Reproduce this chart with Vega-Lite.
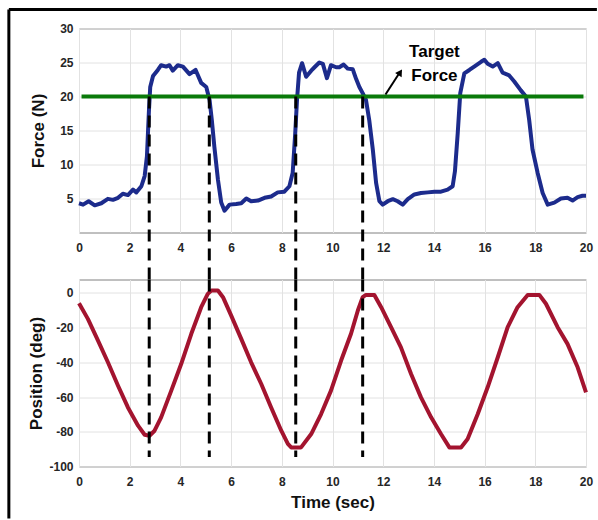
{
  "$schema": "https://vega.github.io/schema/vega-lite/v6.json",
  "padding": {"left": 6, "top": 7.5, "right": 0, "bottom": 0},
  "background": "white",
  "bounds": "flush",
  "spacing": 47,
  "config": {
    "view": {"stroke": "#808080", "strokeWidth": 1},
    "font": "Liberation Sans",
    "axis": {
      "labelFont": "Liberation Sans", "labelFontWeight": "bold", "labelFontSize": 12, "labelColor": "#262626",
      "titleFont": "Liberation Sans", "titleFontWeight": "bold", "titleFontSize": 17, "titleColor": "#111111",
      "gridColor": "#e2e2e2", "gridWidth": 1, "domain": false, "ticks": false, "labelFlush": false
    }
  },
  "datasets": {
    "force": [
      {"t": 0, "v": 4.3}, {"t": 0.16, "v": 4.1}, {"t": 0.38, "v": 4.6}, {"t": 0.62, "v": 4.0}, {"t": 0.88, "v": 4.3},
      {"t": 1.14, "v": 4.95}, {"t": 1.34, "v": 4.8}, {"t": 1.54, "v": 5.1}, {"t": 1.73, "v": 5.7}, {"t": 1.93, "v": 5.5},
      {"t": 2.13, "v": 6.3}, {"t": 2.26, "v": 5.9}, {"t": 2.46, "v": 6.8}, {"t": 2.59, "v": 8.3}, {"t": 2.68, "v": 11.2},
      {"t": 2.76, "v": 18}, {"t": 2.81, "v": 21.4}, {"t": 2.92, "v": 23}, {"t": 3.11, "v": 23.9}, {"t": 3.24, "v": 24.6},
      {"t": 3.44, "v": 24.4}, {"t": 3.57, "v": 24.6}, {"t": 3.7, "v": 23.8}, {"t": 3.9, "v": 24.6}, {"t": 4.1, "v": 24.4},
      {"t": 4.36, "v": 23.3}, {"t": 4.6, "v": 23.9}, {"t": 4.82, "v": 22}, {"t": 5.02, "v": 21.4}, {"t": 5.15, "v": 19.5},
      {"t": 5.24, "v": 16.5}, {"t": 5.34, "v": 12.6}, {"t": 5.48, "v": 7.8}, {"t": 5.61, "v": 4.4}, {"t": 5.74, "v": 3.2},
      {"t": 5.94, "v": 4.1}, {"t": 6.2, "v": 4.2}, {"t": 6.4, "v": 4.3}, {"t": 6.6, "v": 5.0}, {"t": 6.79, "v": 4.6},
      {"t": 7.06, "v": 4.7}, {"t": 7.32, "v": 5.1}, {"t": 7.58, "v": 5.3}, {"t": 7.84, "v": 5.9}, {"t": 8.1, "v": 6.0},
      {"t": 8.3, "v": 6.8}, {"t": 8.43, "v": 8.8}, {"t": 8.53, "v": 14.6}, {"t": 8.6, "v": 19.5}, {"t": 8.68, "v": 23.5},
      {"t": 8.8, "v": 24.9}, {"t": 8.96, "v": 22.9}, {"t": 9.16, "v": 23.8}, {"t": 9.29, "v": 24.3}, {"t": 9.48, "v": 25.0},
      {"t": 9.62, "v": 24.8}, {"t": 9.78, "v": 22.7}, {"t": 9.94, "v": 24.6}, {"t": 10.14, "v": 24.3}, {"t": 10.27, "v": 24.3},
      {"t": 10.44, "v": 24.7}, {"t": 10.6, "v": 24.1}, {"t": 10.8, "v": 24.0}, {"t": 10.93, "v": 22.6}, {"t": 11.06, "v": 21.4},
      {"t": 11.19, "v": 20.5}, {"t": 11.32, "v": 19.5}, {"t": 11.45, "v": 16.5}, {"t": 11.59, "v": 12.2}, {"t": 11.72, "v": 7.3},
      {"t": 11.85, "v": 4.6}, {"t": 11.98, "v": 4.1}, {"t": 12.18, "v": 4.6}, {"t": 12.38, "v": 4.9}, {"t": 12.57, "v": 4.6},
      {"t": 12.77, "v": 4.1}, {"t": 12.97, "v": 4.9}, {"t": 13.23, "v": 5.6}, {"t": 13.49, "v": 5.8}, {"t": 13.76, "v": 5.9},
      {"t": 14.02, "v": 6.0}, {"t": 14.28, "v": 6.0}, {"t": 14.54, "v": 6.3}, {"t": 14.74, "v": 6.8}, {"t": 14.83, "v": 9.0},
      {"t": 14.94, "v": 14.6}, {"t": 15.04, "v": 20.5}, {"t": 15.2, "v": 23.4}, {"t": 15.4, "v": 23.9}, {"t": 15.59, "v": 24.4},
      {"t": 15.86, "v": 25.1}, {"t": 15.99, "v": 25.4}, {"t": 16.12, "v": 24.8}, {"t": 16.32, "v": 24.4}, {"t": 16.52, "v": 24.9},
      {"t": 16.71, "v": 23.5}, {"t": 16.97, "v": 23.1}, {"t": 17.17, "v": 22.2}, {"t": 17.43, "v": 20.9}, {"t": 17.63, "v": 20.0},
      {"t": 17.76, "v": 16.5}, {"t": 17.89, "v": 12.2}, {"t": 18.09, "v": 8.8}, {"t": 18.29, "v": 5.8}, {"t": 18.49, "v": 4.1},
      {"t": 18.75, "v": 4.4}, {"t": 19.01, "v": 5.0}, {"t": 19.27, "v": 5.1}, {"t": 19.47, "v": 4.7}, {"t": 19.67, "v": 5.2},
      {"t": 19.86, "v": 5.4}, {"t": 20, "v": 5.4}
    ],
    "position": [
      {"t": 0, "v": -6}, {"t": 0.35, "v": -15}, {"t": 0.75, "v": -27.5}, {"t": 1.14, "v": -40}, {"t": 1.54, "v": -53.5},
      {"t": 1.93, "v": -66}, {"t": 2.33, "v": -76.5}, {"t": 2.59, "v": -81.7}, {"t": 2.78, "v": -82.3}, {"t": 2.98, "v": -79.4},
      {"t": 3.24, "v": -71.7}, {"t": 3.64, "v": -56.3}, {"t": 4.03, "v": -41}, {"t": 4.43, "v": -23.6}, {"t": 4.82, "v": -8.3},
      {"t": 5.08, "v": -0.6}, {"t": 5.22, "v": 1.3}, {"t": 5.48, "v": 1.3}, {"t": 5.68, "v": -2.5}, {"t": 6.0, "v": -13},
      {"t": 6.4, "v": -26.5}, {"t": 6.79, "v": -40}, {"t": 7.19, "v": -52.5}, {"t": 7.58, "v": -66}, {"t": 7.98, "v": -79.4},
      {"t": 8.24, "v": -87}, {"t": 8.37, "v": -89}, {"t": 8.76, "v": -89}, {"t": 9.16, "v": -81.3}, {"t": 9.55, "v": -69.8},
      {"t": 9.94, "v": -56.3}, {"t": 10.34, "v": -39}, {"t": 10.73, "v": -23.6}, {"t": 11.0, "v": -10.2}, {"t": 11.19, "v": -2.5},
      {"t": 11.32, "v": -1.2}, {"t": 11.65, "v": -1.2}, {"t": 11.92, "v": -8.3}, {"t": 12.31, "v": -19.8}, {"t": 12.7, "v": -31.4},
      {"t": 13.1, "v": -46.7}, {"t": 13.49, "v": -60.2}, {"t": 13.89, "v": -71.7}, {"t": 14.28, "v": -81.3}, {"t": 14.61, "v": -89},
      {"t": 15.07, "v": -89}, {"t": 15.33, "v": -84.2}, {"t": 15.73, "v": -69.8}, {"t": 16.12, "v": -54.4}, {"t": 16.52, "v": -37.1},
      {"t": 16.91, "v": -19.8}, {"t": 17.3, "v": -8.3}, {"t": 17.7, "v": -1.2}, {"t": 18.16, "v": -1.2}, {"t": 18.42, "v": -6.3},
      {"t": 18.88, "v": -19.8}, {"t": 19.27, "v": -29.4}, {"t": 19.67, "v": -42.9}, {"t": 20, "v": -57.3}
    ],
    "target": [{"t": 0.1, "v": 20}, {"t": 19.9, "v": 20}],
    "dashTop": [
      {"t": 2.77, "v": 20, "v2": -6.9}, {"t": 5.14, "v": 20, "v2": -6.9},
      {"t": 8.55, "v": 20, "v2": -6.9}, {"t": 11.19, "v": 20, "v2": -6.9}
    ],
    "dashBottom": [
      {"t": 2.77, "v": 7.67, "v2": -94.6}, {"t": 5.14, "v": 7.67, "v2": -94.6},
      {"t": 8.55, "v": 7.67, "v2": -94.6}, {"t": 11.19, "v": 7.67, "v2": -94.6}
    ],
    "arrowShaft": [{"t": 12.09, "t2": 12.62, "v": 20.29, "v2": 23.34}],
    "arrowHead": [{"t": 12.67, "v": 23.57}],
    "labels": [{"t": 14.02, "v": 25.78, "label": "Target"}, {"t": 14.02, "v": 22.35, "label": "Force"}],
    "borderLeft": [{"t": -2.767, "v": 32.79, "v2": -42.06}],
    "borderTop": [{"t": -2.767, "t2": 20.43, "v": 32.79}]
  },
  "vconcat": [
    {
      "width": 507,
      "height": 204,
      "encoding": {
        "x": {"field": "t", "type": "quantitative", "scale": {"domain": [0, 20], "nice": false, "zero": false},
              "axis": {"values": [0, 2, 4, 6, 8, 10, 12, 14, 16, 18, 20], "title": null, "labelPadding": 10, "labelAngle": 0, "labelFlush": false}},
        "y": {"field": "v", "type": "quantitative", "scale": {"domain": [0, 30], "nice": false, "zero": false},
              "axis": {"values": [5, 10, 15, 20, 25, 30], "title": "Force (N)", "labelPadding": 6, "titlePadding": 12}}
      },
      "layer": [
        {"data": {"name": "borderLeft"}, "mark": {"type": "rule", "clip": false, "color": "#000000", "strokeWidth": 3},
         "encoding": {"y2": {"field": "v2"}}},
        {"data": {"name": "borderTop"}, "mark": {"type": "rule", "clip": false, "color": "#000000", "strokeWidth": 3},
         "encoding": {"x2": {"field": "t2"}}},
        {"data": {"name": "force"}, "mark": {"type": "line", "color": "#1c2b8c", "strokeWidth": 4, "strokeJoin": "round"}},
        {"data": {"name": "target"}, "mark": {"type": "line", "color": "#0a7a0a", "strokeWidth": 4}},
        {"data": {"name": "dashTop"}, "mark": {"type": "rule", "clip": false, "color": "#000000", "strokeWidth": 3, "strokeDash": [12, 7]},
         "encoding": {"y2": {"field": "v2"}}},
        {"data": {"name": "arrowShaft"}, "mark": {"type": "rule", "color": "#000000", "strokeWidth": 2},
         "encoding": {"x2": {"field": "t2"}, "y2": {"field": "v2"}}},
        {"data": {"name": "arrowHead"}, "mark": {"type": "point", "shape": "triangle-up", "filled": true, "color": "#000000", "opacity": 1, "size": 60, "angle": 33}},
        {"data": {"name": "labels"}, "mark": {"type": "text", "font": "Liberation Sans", "fontSize": 17, "fontWeight": "bold", "color": "#000000", "align": "center", "baseline": "alphabetic"},
         "encoding": {"text": {"field": "label"}}}
      ]
    },
    {
      "width": 507,
      "height": 187,
      "encoding": {
        "x": {"field": "t", "type": "quantitative", "scale": {"domain": [0, 20], "nice": false, "zero": false},
              "axis": {"values": [0, 2, 4, 6, 8, 10, 12, 14, 16, 18, 20], "title": "Time (sec)", "labelPadding": 10, "titlePadding": 7, "labelAngle": 0, "labelFlush": false}},
        "y": {"field": "v", "type": "quantitative", "scale": {"domain": [-100, 7.67], "nice": false, "zero": false},
              "axis": {"values": [-100, -80, -60, -40, -20, 0], "title": "Position (deg)", "labelPadding": 6, "titlePadding": 3, "labelExpr": "'' + datum.value"}}
      },
      "layer": [
        {"data": {"name": "position"}, "mark": {"type": "line", "color": "#a3142f", "strokeWidth": 4, "strokeJoin": "round"}},
        {"data": {"name": "dashBottom"}, "mark": {"type": "rule", "color": "#000000", "strokeWidth": 3, "strokeDash": [12, 7]},
         "encoding": {"y2": {"field": "v2"}}}
      ]
    }
  ]
}
